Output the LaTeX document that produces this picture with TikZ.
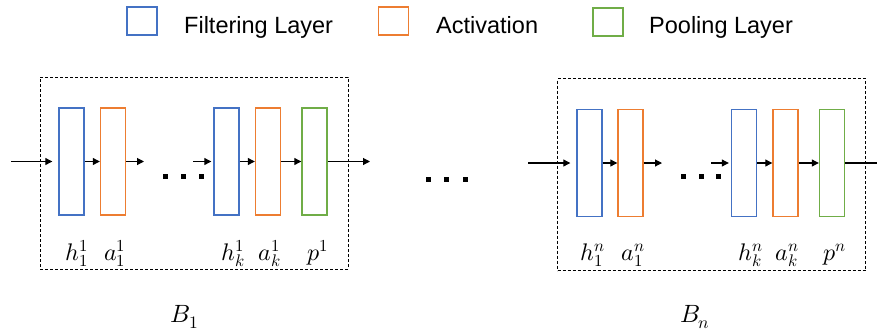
\documentclass[tikz,border=0pt]{standalone}
\usepackage{fontspec}
\usepackage{unicode-math}
\usepackage{tikz}
\usetikzlibrary{arrows.meta, positioning}
\setmathfont{Latin Modern Math}
\newfontfamily\legendfont{Liberation Sans}
\definecolor{filterblue}{HTML}{4472C4}
\definecolor{actorange}{HTML}{ED7D31}
\definecolor{poolgreen}{HTML}{70AD47}

\begin{document}
\begin{tikzpicture}[
  x=1pt, y=-1pt,
  layer/.style={rectangle, draw, line width=1.4pt, minimum width=25pt, minimum height=107pt, inner sep=0pt},
  legendbox/.style={rectangle, draw, line width=1.2pt, minimum width=30pt, minimum height=28pt, inner sep=0pt},
  legendtext/.style={anchor=base west, font=\legendfont\fontsize{23.5}{28}\selectfont, inner sep=0pt},
  frame/.style={rectangle, draw, dash pattern=on 3pt off 2pt, line width=1pt, minimum width=308pt, minimum height=192pt, inner sep=0pt},
  arrow/.style={-{Triangle[length=7pt,width=7pt]}, line width=1.1pt},
  dotsq/.style={rectangle, fill=black, minimum size=5pt, inner sep=0pt},
  sym/.style={anchor=base, font=\fontsize{24}{28}\selectfont, inner sep=0pt},
  blabel/.style={anchor=base, font=\fontsize{25}{30}\selectfont, inner sep=0pt}
]
\useasboundingbox (0,0) rectangle (877,333);

% Legend
\node[legendbox, draw=filterblue] (legfilt) at (142,21) {};
\node[legendtext] (txtfilt) at (184,33) {Filtering Layer};
\node[legendbox, draw=actorange] (legact) at (393.5,21) {};
\node[legendtext] (txtact) at (436,33) {Activation};
\node[legendbox, draw=poolgreen] (legpool) at (608,22) {};
\node[legendtext] (txtpool) at (649,33) {Pooling Layer};

% Block 1
\node[frame] (blk1) at (194,173) {};
\node[layer, draw=filterblue] (h11) at (71.5,161.5) {};
\node[layer, draw=actorange] (a11) at (113,161.5) {};
\node[layer, draw=filterblue] (hk1) at (226.5,161.5) {};
\node[layer, draw=actorange] (ak1) at (268,161.5) {};
\node[layer, draw=poolgreen] (p1) at (314.5,161.5) {};
\coordinate (in1) at (11,161.5);
\coordinate (mid1a) at (144,161.5);
\coordinate (mid1b) at (193,161.5);
\coordinate (out1) at (370,161.5);
\node[dotsq] (dot1a) at (165,176) {};
\node[dotsq] (dot1b) at (183,176) {};
\node[dotsq] (dot1c) at (201,176) {};
\draw[arrow, shorten >=6pt] (in1) -- (h11.west);
\draw[arrow] (h11.east) -- (a11.west);
\draw[arrow] (a11.east) -- (mid1a);
\draw[arrow, shorten >=2pt] (mid1b) -- (hk1.west);
\draw[arrow] (hk1.east) -- (ak1.west);
\draw[arrow] (ak1.east) -- (p1.west);
\draw[arrow] (p1.east) -- (out1);
\node[sym] (lh11) at (77,260) {$h_1^1$};
\node[sym] (la11) at (115,260) {$a_1^1$};
\node[sym] (lhk1) at (233,260) {$h_k^1$};
\node[sym] (lak1) at (270,260) {$a_k^1$};
\node[sym] (lp1) at (318,260) {$p^1$};
\node[blabel] (b1) at (185,322) {$B_1$};

% Between blocks
\node[dotsq] (gapa) at (428,179) {};
\node[dotsq] (gapb) at (446,179) {};
\node[dotsq] (gapc) at (465,179) {};

% Block n
\node[frame] (blkn) at (711.5,174.5) {};
\node[layer, draw=filterblue] (h1n) at (589.5,163) {};
\node[layer, draw=actorange] (a1n) at (630.5,163) {};
\node[layer, draw=filterblue] (hkn) at (744,163) {};
\node[layer, draw=actorange] (akn) at (785.5,163) {};
\node[layer, draw=poolgreen] (pn) at (832,163) {};
\coordinate (inn) at (528,163);
\coordinate (midna) at (662,163);
\coordinate (midnb) at (711,163);
\coordinate (outn) at (890,163);
\node[dotsq] (dotna) at (683,176) {};
\node[dotsq] (dotnb) at (701,176) {};
\node[dotsq] (dotnc) at (718,176) {};
\draw[arrow, shorten >=6pt] (inn) -- (h1n.west);
\draw[arrow] (h1n.east) -- (a1n.west);
\draw[arrow] (a1n.east) -- (midna);
\draw[arrow, shorten >=2pt] (midnb) -- (hkn.west);
\draw[arrow] (hkn.east) -- (akn.west);
\draw[arrow] (akn.east) -- (pn.west);
\draw[arrow] (pn.east) -- (outn);
\node[sym] (lh1n) at (593,260) {$h_1^n$};
\node[sym] (la1n) at (633,260) {$a_1^n$};
\node[sym] (lhkn) at (751,260) {$h_k^n$};
\node[sym] (lakn) at (787,260) {$a_k^n$};
\node[sym] (lpn) at (835,260) {$p^n$};
\node[blabel] (bn) at (695,322) {$B_n$};

\end{tikzpicture}
\end{document}
